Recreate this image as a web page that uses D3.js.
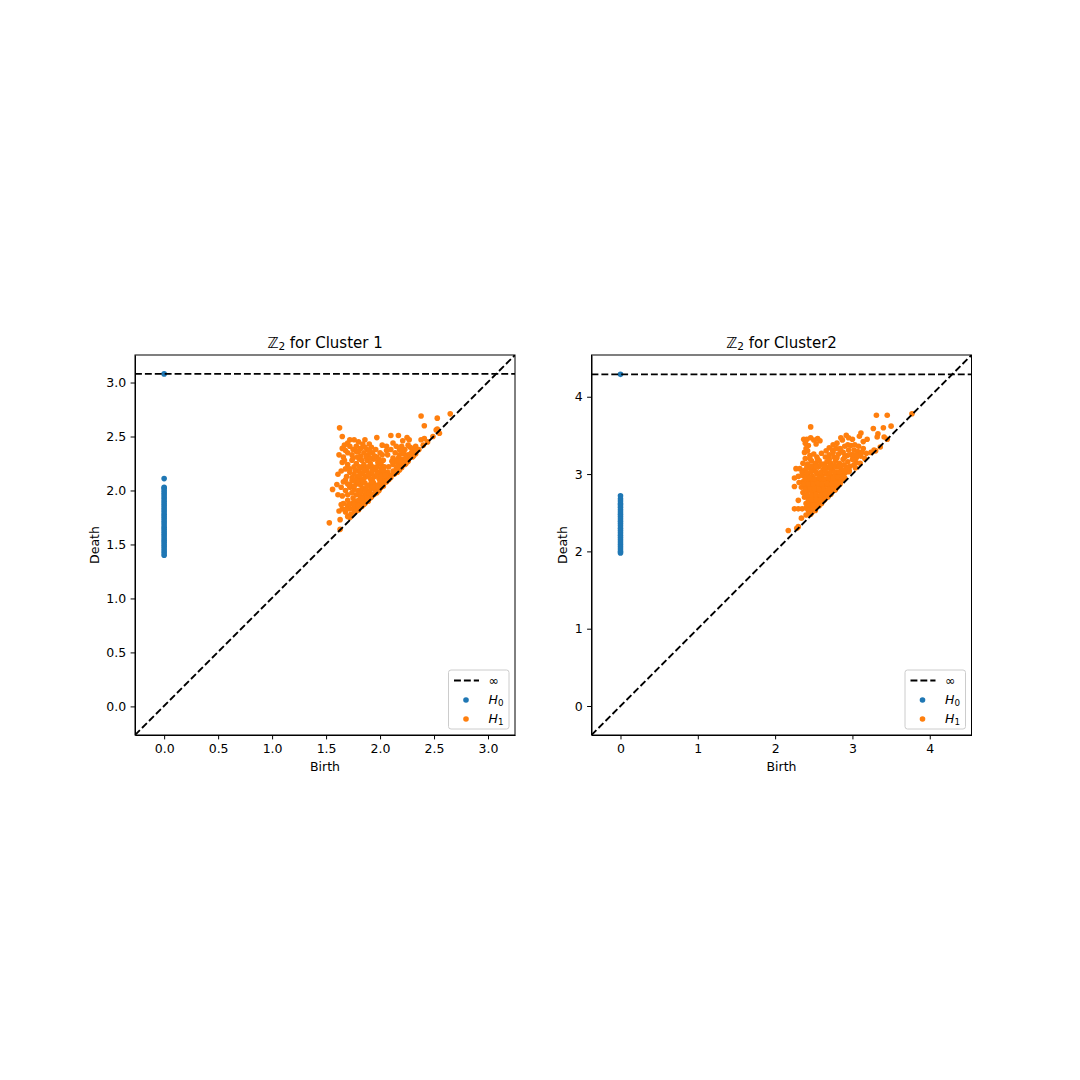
<!DOCTYPE html>
<html lang="en">
<head>
<meta charset="UTF-8">
<title>Persistence diagrams</title>
<script src="https://d3js.org/d3.v7.min.js"></script>
<style>
    body { margin: 0; background: white; }
    svg { display: block; font-family: "DejaVu Sans", sans-serif; }
    .axis path, .axis line { stroke: black; stroke-width: 1px; }
    .axis text { font-size: 12.5px; fill: black; font-family: "DejaVu Sans", sans-serif; }
</style>
</head>
<body>
<svg width="1080" height="1080"></svg>
<script>
// Cluster 1
const titleNames = ["Cluster 1", "Cluster2"];
const ticks1X = [0, 0.5, 1, 1.5, 2, 2.5, 3];
const ticks1Y = [0, 0.5, 1, 1.5, 2, 2.5, 3];
const h0Deaths1 = [3.08, 2.11, 2.03, 2.02, 2.0, 1.98, 1.96, 1.94, 1.92, 1.9, 1.88, 1.86, 1.84, 1.82, 1.8, 1.78, 1.76, 1.74, 1.72, 1.7, 1.68, 1.66, 1.64, 1.62, 1.6, 1.58, 1.56, 1.54, 1.52, 1.5, 1.48, 1.46, 1.44, 1.42, 1.4];
const h1Points1 = [
    [2.38,2.69],[2.53,2.67],[2.65,2.71],[2.41,2.60],[2.52,2.56],[1.625,2.58],[1.65,2.50],[1.53,1.70],[1.63,1.73],[1.63,1.64],
    [1.72,2.47],[1.76,2.47],[1.80,2.45],[1.86,2.47],[1.84,2.43],[1.90,2.43],[1.97,2.49],[2.02,2.42],[2.10,2.51],[2.12,2.44],
    [2.17,2.51],[2.21,2.46],[2.25,2.49],[2.27,2.47],[2.20,2.41],[2.38,2.47],[2.41,2.48],[2.44,2.45],[2.49,2.50],[2.55,2.53],[2.53,2.57],
    [1.67,2.42],[1.70,2.44],[1.65,2.39],[1.75,2.38],[1.78,2.41],[1.82,2.39],[1.88,2.38],[1.92,2.40],[1.96,2.38],[2.06,2.41],
    [2.10,2.38],[2.15,2.41],[2.18,2.38],[2.23,2.38],[2.26,2.42],[2.30,2.38],[2.33,2.41],[2.36,2.38],[2.40,2.42],[2.06,2.37],
    [1.62,2.33],[1.66,2.31],[1.70,2.35],[1.74,2.33],[1.78,2.36],[1.82,2.32],[1.85,2.35],[1.89,2.33],[1.93,2.35],[1.97,2.31],
    [2.00,2.35],[2.14,2.35],[2.18,2.33],[2.22,2.34],[2.26,2.33],[2.29,2.35],[2.31,2.32],[2.12,2.30],[2.17,2.30],[2.21,2.29],[2.27,2.30],
    [1.65,2.26],[1.70,2.24],[1.74,2.28],[1.78,2.25],[1.81,2.29],[1.85,2.24],[1.88,2.28],[1.91,2.25],[1.94,2.29],[1.98,2.26],
    [2.01,2.24],[2.04,2.22],[1.76,2.22],[1.83,2.21],[1.87,2.21],[1.93,2.22],[2.12,2.24],[2.16,2.26],[2.19,2.23],[2.24,2.25],
    [1.61,2.15],[1.64,2.18],[1.72,2.17],[1.76,2.15],[1.80,2.18],[1.84,2.16],[1.88,2.18],[1.92,2.16],[1.96,2.19],[2.00,2.17],
    [2.03,2.15],[2.07,2.17],[2.12,2.18],[2.15,2.20],[2.18,2.19],[1.69,2.13],[1.79,2.12],[1.83,2.10],[1.87,2.13],[1.91,2.11],
    [1.95,2.13],[1.99,2.11],[2.03,2.10],[2.07,2.12],[2.10,2.14],[2.13,2.15],
    [1.60,2.055],[1.56,2.01],[1.61,1.96],[1.66,2.08],[1.70,2.06],[1.74,2.09],[1.78,2.06],[1.82,2.05],[1.86,2.07],[1.90,2.05],
    [1.94,2.07],[1.98,2.05],[2.02,2.07],[2.05,2.08],[2.08,2.10],[1.64,2.03],[1.68,2.00],[1.72,2.03],[1.76,2.01],[1.80,2.00],
    [1.84,2.02],[1.88,2.00],[1.92,2.02],[1.96,2.00],[2.00,2.02],[2.03,2.05],[1.65,1.95],[1.70,1.96],[1.78,1.96],[1.82,1.94],
    [1.86,1.96],[1.90,1.95],[1.94,1.96],[1.97,1.98],[2.01,2.03],[1.75,1.93],[1.84,1.90],[1.88,1.91],[1.91,1.93],
    [1.66,1.88],[1.70,1.86],[1.74,1.88],[1.78,1.89],[1.82,1.87],[1.86,1.88],[1.89,1.90],[1.65,1.83],[1.68,1.80],[1.72,1.83],
    [1.76,1.84],[1.80,1.83],[1.83,1.85],[1.85,1.87],[1.70,1.76],[1.73,1.78],[1.76,1.80],[1.78,1.81],[1.80,1.82],[1.72,1.75],
    [2.16,2.17],[2.20,2.21],[2.23,2.24],[2.26,2.27],[2.30,2.31],[2.33,2.34],[2.14,2.16],[2.10,2.12],[2.06,2.08],[2.03,2.04],[1.99,2.00],[1.95,1.97],[1.92,1.94],
    [1.75,2.30],[1.79,2.31],[1.83,2.28],[1.87,2.31],[1.91,2.30],[1.95,2.32],[1.99,2.29],[1.72,2.20],[1.77,2.19],[1.81,2.22],
    [1.85,2.19],[1.89,2.22],[1.93,2.19],[1.97,2.22],[2.01,2.20],[1.74,2.12],[1.77,2.10],[1.81,2.14],[1.85,2.11],[1.89,2.15],
    [1.93,2.09],[1.97,2.15],[2.01,2.13],[2.05,2.14],[1.68,2.10],[1.72,2.05],[1.76,2.04],[1.80,2.08],[1.84,2.08],[1.88,2.04],
    [1.92,2.08],[1.96,2.04],[2.00,2.08],[1.74,1.98],[1.82,1.98],[1.86,2.00],[1.90,1.98],[1.94,2.03],[1.98,2.03],[1.70,1.91],
    [1.76,1.90],[1.80,1.91],[1.72,1.87],[1.84,1.93],[1.69,1.83],[1.76,1.87],[1.80,1.86],[1.84,1.88],[1.88,1.93],[1.92,1.97],
    [2.14,2.28],[2.18,2.27],[2.23,2.29],[2.16,2.22],[2.20,2.26],[2.24,2.30],[2.28,2.33],[2.11,2.27],[1.72,2.41],[1.80,2.36],
    [1.86,2.40],[1.90,2.37],[1.68,2.37],[2.20,2.37],[2.28,2.40],[2.34,2.37],[1.68,2.20],[1.67,2.28],
    [2.03,2.28],[2.02,2.33],[2.00,2.26],[2.03,2.19],[2.08,2.22],[2.07,2.33],[1.64,1.87],[1.62,1.81]
];

// Cluster 2
const ticks2X = [0, 1, 2, 3, 4];
const ticks2Y = [0, 1, 2, 3, 4];
const h0Deaths2 = [4.29, 2.72, 2.68, 2.65, 2.62, 2.6, 2.57, 2.54, 2.51, 2.48, 2.45, 2.42, 2.39, 2.36, 2.33, 2.3, 2.27, 2.24, 2.21, 2.18, 2.15, 2.12, 2.09, 2.06, 2.03, 2.0, 1.98];
const h1Points2 = [
    [3.31,3.76],[3.45,3.76],[3.77,3.78],[2.46,3.61],[3.27,3.59],[3.40,3.60],[3.50,3.62],[3.33,3.52],[3.32,3.48],[3.41,3.48],[3.45,3.45],
    [3.11,3.53],[3.09,3.49],[2.92,3.50],[3.19,3.45],[3.14,3.42],[3.36,3.35],[2.17,2.27],[2.30,2.32],[2.28,2.30],[2.25,2.55],[2.30,2.66],
    [2.34,2.43],[2.25,2.84],[2.25,2.95],[2.27,3.07],[2.35,2.55],[2.30,2.55],
    [2.37,3.45],[2.41,3.45],[2.46,3.47],[2.50,3.44],[2.55,3.46],[2.58,3.43],[2.39,3.40],[2.53,3.39],[2.75,3.38],[2.80,3.40],[2.87,3.44],
    [2.85,3.47],[2.95,3.47],[3.00,3.45],[2.40,3.33],[2.38,3.28],[2.60,3.27],[2.70,3.34],[2.66,3.30],[2.74,3.31],[2.79,3.33],[2.84,3.33],
    [2.90,3.36],[2.94,3.38],[2.98,3.37],[3.03,3.38],[3.08,3.36],[3.02,3.31],[3.07,3.29],[3.12,3.28],[3.18,3.27],[3.24,3.28],[3.28,3.31],[3.30,3.30],
    [2.45,3.24],[2.50,3.26],[2.54,3.22],[2.39,3.20],[2.65,3.22],[2.70,3.25],[2.76,3.22],[2.82,3.26],[2.88,3.28],[2.93,3.24],[2.98,3.25],[2.36,3.14],
    [2.42,3.13],[2.47,3.17],[2.52,3.14],[2.57,3.17],[2.62,3.13],[2.67,3.16],[2.72,3.14],[2.78,3.17],[2.83,3.14],[2.88,3.19],[2.94,3.16],[3.00,3.19],[3.05,3.21],[3.11,3.23],
    [2.32,3.07],[2.38,3.05],[2.44,3.08],[2.50,3.06],[2.56,3.09],[2.62,3.06],[2.68,3.08],[2.74,3.06],[2.80,3.09],[2.86,3.06],[2.92,3.09],[2.97,3.10],[3.02,3.12],[3.05,3.15],
    [2.30,2.97],[2.36,2.98],[2.42,2.99],[2.48,2.97],[2.54,3.00],[2.60,2.98],[2.66,3.00],[2.72,2.98],[2.78,3.00],[2.84,2.99],[2.90,3.01],[2.95,3.03],
    [2.36,2.90],[2.42,2.92],[2.48,2.90],[2.54,2.92],[2.60,2.90],[2.66,2.92],[2.72,2.90],[2.78,2.92],[2.84,2.92],[2.88,2.94],[2.31,2.89],[2.34,2.83],
    [2.40,2.84],[2.46,2.84],[2.52,2.85],[2.58,2.83],[2.64,2.85],[2.70,2.83],[2.76,2.85],[2.82,2.86],[2.36,2.76],[2.42,2.78],[2.48,2.76],[2.54,2.78],
    [2.60,2.76],[2.66,2.78],[2.72,2.77],[2.77,2.79],[2.38,2.70],[2.44,2.70],[2.50,2.70],[2.56,2.70],[2.62,2.71],[2.68,2.72],[2.40,2.62],[2.46,2.63],
    [2.52,2.63],[2.58,2.64],[2.63,2.66],[2.40,2.56],[2.46,2.56],[2.52,2.57],[2.57,2.59],[2.44,2.50],[2.48,2.51],[2.52,2.53],[2.40,2.47],[2.46,2.48],
    [2.78,2.80],[2.84,2.87],[2.90,2.95],[2.96,3.04],[3.04,3.08],[3.10,3.14],[3.16,3.20],[2.72,2.74],[2.68,2.70],[2.64,2.67],
    [2.43,2.53],[2.49,2.54],[2.45,2.60],[2.49,2.60],[2.55,2.61],[2.60,2.62],[2.43,2.66],[2.47,2.67],[2.53,2.67],[2.59,2.67],
    [2.65,2.69],[2.41,2.73],[2.47,2.73],[2.53,2.74],[2.59,2.73],[2.65,2.75],[2.70,2.75],[2.39,2.80],[2.45,2.81],[2.51,2.81],
    [2.57,2.80],[2.63,2.81],[2.69,2.80],[2.75,2.82],[2.80,2.83],[2.37,2.87],[2.43,2.87],[2.49,2.87],[2.55,2.88],[2.61,2.87],
    [2.67,2.88],[2.73,2.87],[2.79,2.88],[2.85,2.90],[2.39,2.94],[2.45,2.95],[2.51,2.94],[2.57,2.95],[2.63,2.94],[2.69,2.95],
    [2.75,2.95],[2.81,2.96],[2.87,2.97],[2.35,3.02],[2.41,3.02],[2.47,3.03],[2.53,3.03],[2.59,3.02],[2.65,3.03],[2.71,3.02],
    [2.77,3.03],[2.83,3.03],[2.89,3.04],[2.95,3.07],[2.41,3.09],[2.47,3.10],[2.53,3.10],[2.59,3.12],[2.65,3.10],[2.71,3.10],
    [2.77,3.11],[2.83,3.10],[2.89,3.12],[2.45,3.20],[2.55,3.19],[2.70,3.19],[2.80,3.21],[2.90,3.22],[3.00,3.25],[3.05,3.25],
    [2.43,3.37],[2.42,3.30],[2.75,3.28],[2.85,3.30],[2.95,3.31],[3.14,3.33]
];

// axes box and value ranges
const panels = [
    { title: titleNames[0], left: 135, labelX: -40, xlim: [-0.27, 3.25], ylim: [-0.265, 3.255], inf: 3.08, xt: ticks1X, yt: ticks1Y, fmt: d3.format(".1f"), h0: h0Deaths1, h1: h1Points1 },
    { title: titleNames[1], left: 591.5, labelX: -28.5, xlim: [-0.375, 4.54], ylim: [-0.375, 4.54], inf: 4.29, xt: ticks2X, yt: ticks2Y, fmt: d3.format("d"), h0: h0Deaths2, h1: h1Points2 }
];
const axesTop = 355, size = 380;
const blue = "#1f77b4", orange = "#ff7f0e";
const dash = "6.9,3";
const svg = d3.select("svg");

panels.forEach((p, i) => {
    const x = d3.scaleLinear().domain(p.xlim).range([0, size]);
    const y = d3.scaleLinear().domain(p.ylim).range([size, 0]);
    const g = svg.append("g").attr("transform", `translate(${p.left},${axesTop})`);

    const clipId = `clip${i}`;
    g.append("clipPath").attr("id", clipId).append("rect").attr("width", size).attr("height", size);
    const plot = g.append("g").attr("clip-path", `url(#${clipId})`);

    plot.selectAll("circle.h0").data(p.h0).enter().append("circle")
        .attr("class", "h0").attr("cx", x(0)).attr("cy", d => y(d)).attr("r", 2.8).attr("fill", blue);
    plot.selectAll("circle.h1").data(p.h1).enter().append("circle")
        .attr("class", "h1").attr("cx", d => x(d[0])).attr("cy", d => y(d[1])).attr("r", 2.8).attr("fill", orange);

    // diagonal and infinity line sit on top of the dots
    plot.append("line").attr("x1", 0).attr("y1", size).attr("x2", size).attr("y2", 0)
        .attr("stroke", "black").attr("stroke-width", 1.875).attr("stroke-dasharray", dash);
    plot.append("line").attr("x1", 0).attr("x2", size).attr("y1", y(p.inf)).attr("y2", y(p.inf))
        .attr("stroke", "black").attr("stroke-width", 1.875).attr("stroke-dasharray", dash);

    g.append("g").attr("class", "axis").attr("transform", `translate(0,${size})`)
        .call(d3.axisBottom(x).tickValues(p.xt).tickFormat(p.fmt).tickSize(4.4).tickPadding(4.4).tickSizeOuter(0));
    g.append("g").attr("class", "axis")
        .call(d3.axisLeft(y).tickValues(p.yt).tickFormat(p.fmt).tickSize(4.4).tickPadding(4.4).tickSizeOuter(0));
    g.append("rect").attr("width", size).attr("height", size).attr("fill", "none").attr("stroke", "black").attr("stroke-width", 1);

    const title = g.append("text").attr("x", size / 2).attr("y", -7).attr("text-anchor", "middle")
        .attr("font-size", 15).attr("fill", "black");
    title.append("tspan").text("ℤ");
    title.append("tspan").attr("font-size", 10.5).attr("dy", 2).text("2");
    title.append("tspan").attr("dy", -2).text(` for ${p.title}`);

    g.append("text").attr("x", size / 2).attr("y", size + 35.5).attr("text-anchor", "middle").attr("font-size", 12.5).text("Birth");
    g.append("text").attr("transform", `translate(${p.labelX},${size / 2}) rotate(-90)`).attr("text-anchor", "middle").attr("dy", "0.35em")
        .attr("font-size", 12.5).text("Death");

    // legend
    const lg = g.append("g").attr("transform", `translate(${size - 66.5},${size - 65})`);
    lg.append("rect").attr("width", 60.5).attr("height", 59).attr("rx", 2.5)
        .attr("fill", "white").attr("fill-opacity", 0.8).attr("stroke", "#cccccc").attr("stroke-width", 1);
    lg.append("line").attr("x1", 5.5).attr("x2", 30.5).attr("y1", 10.5).attr("y2", 10.5)
        .attr("stroke", "black").attr("stroke-width", 1.875).attr("stroke-dasharray", dash);
    lg.append("text").attr("x", 40).attr("y", 15).attr("font-size", 12.5).text("∞");
    [["0", blue, 30], ["1", orange, 49]].forEach(([sub, col, ly]) => {
        lg.append("circle").attr("cx", 17.5).attr("cy", ly).attr("r", 2.8).attr("fill", col);
        const t = lg.append("text").attr("x", 40).attr("y", ly + 4).attr("font-size", 12.5);
        t.append("tspan").attr("font-style", "italic").text("H");
        t.append("tspan").attr("font-size", 8.75).attr("dy", 2).text(sub);
    });
});
</script>
</body>
</html>
